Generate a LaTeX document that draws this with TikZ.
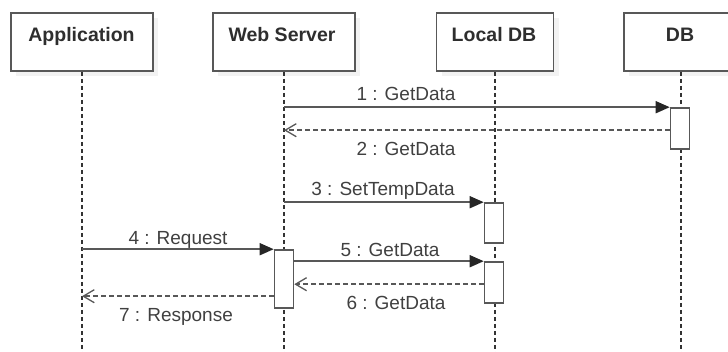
\documentclass[tikz,border=0pt]{standalone}
\usepackage{fontspec}
\setmainfont{Liberation Sans}
\usetikzlibrary{arrows.meta,positioning,calc}

\definecolor{linegray}{RGB}{88,88,88}
\definecolor{textgray}{RGB}{64,64,64}

\tikzset{
	head/.style={draw=linegray, line width=1.6pt, fill=white, minimum height=58pt, inner sep=0pt,
		preaction={fill=black!5, transform canvas={shift={(5pt,-5pt)}}}},
	headtext/.style={anchor=base, text=black!82, font=\fontsize{19.5}{22}\selectfont\bfseries},
	life/.style={draw=black!80, line width=1.2pt, dash pattern=on 4pt off 3pt},
	act/.style={draw=linegray, line width=1.6pt, fill=white, minimum width=19pt, inner sep=0pt},
	call/.style={draw=linegray, line width=1.6pt, -{Triangle[length=14pt,width=12pt,fill=black!85,color=black!85]}},
	back/.style={draw=linegray, line width=1.7pt, dash pattern=on 5pt off 3pt,
		-{Straight Barb[length=11pt,width=13pt,line width=1.3pt]}},
	msg/.style={anchor=base, text=textgray, font=\fontsize{19}{22}\selectfont},
}

\begin{document}
\begin{tikzpicture}[x=1pt, y=-1pt]
	\useasboundingbox (0,0) rectangle (728,351);
	% heads
	\node[head, minimum width=142pt] (app) at (82,42) {};
	\node[head, minimum width=142pt] (web) at (284,42) {};
	\node[head, minimum width=117pt] (ldb) at (495,42) {};
	\node[head, minimum width=114pt] (db) at (681,42) {};
	\node[headtext] (appname) at (81.5,41.7) {Application};
	\node[headtext] (webname) at (282,41.7) {Web Server};
	\node[headtext] (ldbname) at (494,41.7) {Local DB};
	\node[headtext] (dbname) at (680,41.7) {DB};
	% lifelines
	\coordinate (append) at (82,355);
	\coordinate (webend) at (284,355);
	\coordinate (ldbend) at (495,355);
	\coordinate (dbend) at (681,355);
	\draw[life] (app.south) -- (append);
	\draw[life] (web.south) -- (webend);
	\draw[life] (ldb.south) -- (ldbend);
	\draw[life] (db.south) -- (dbend);
	% activations
	\node[act, minimum height=41pt] (dbact) at (680,128.5) {};
	\node[act, minimum height=40pt] (ldbact1) at (494,223) {};
	\node[act, minimum height=58pt] (webact) at (284,279) {};
	\node[act, minimum height=41pt] (ldbact2) at (494,282.5) {};
	% messages
	\draw[call] (dbact.north west -| web) -- (dbact.north west);
	\coordinate (m2) at ([yshift=-23pt]dbact.north west);
	\draw[back] (m2) -- (m2 -| web);
	\draw[call] (ldbact1.north west -| web) -- (ldbact1.north west);
	\draw[call] (webact.north west -| app) -- (webact.north west);
	\coordinate (m5) at (ldbact2.north west);
	\draw[call] (m5 -| webact.east) -- (m5);
	\coordinate (m6) at ([yshift=-23pt]ldbact2.north west);
	\draw[back] (m6) -- (m6 -| webact.east);
	\coordinate (m7) at ([yshift=-47pt]webact.north west);
	\draw[back] (m7) -- (m7 -| app);
	% labels
	\node[msg] (l1) at (406,100.5) {1 : GetData};
	\node[msg] (l2) at (406,155) {2 : GetData};
	\node[msg] (l3) at (383,195) {3 : SetTempData};
	\node[msg] (l4) at (178,244) {4 : Request};
	\node[msg] (l5) at (390,256) {5 : GetData};
	\node[msg] (l6) at (396,309) {6 : GetData};
	\node[msg] (l7) at (176,321.5) {7 : Response};
\end{tikzpicture}
\end{document}
